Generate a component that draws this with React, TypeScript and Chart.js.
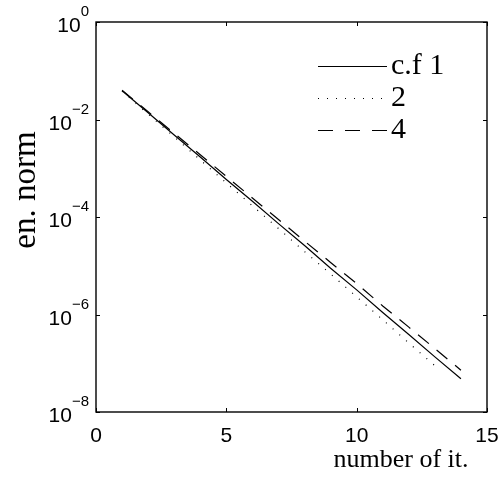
import React, { useEffect, useRef } from "react";
import { Chart, registerables } from "chart.js";

Chart.register(...registerables);

// Iteration counts and the energy norm reached by each coarsening factor
const iterations = [1, 2, 3, 4, 5, 6, 7, 8, 9, 10, 11, 12, 13, 14];
const normCf1 = [3.9e-2, 1.38e-2, 4.8e-3, 1.7e-3, 5.9e-4, 2.1e-4, 7.3e-5, 2.6e-5, 8.9e-6, 3.2e-6, 1.1e-6, 3.9e-7, 1.35e-7, 4.8e-8];
const normCf2 = [3.8e-2, 1.29e-2, 4.4e-3, 1.48e-3, 5.0e-4, 1.7e-4, 5.8e-5, 1.95e-5, 6.8e-6, 2.3e-6, 7.8e-7, 2.6e-7, 8.9e-8];
const normCf4 = [4.0e-2, 1.44e-2, 5.2e-3, 1.9e-3, 6.8e-4, 2.45e-4, 8.9e-5, 3.2e-5, 1.17e-5, 4.3e-6, 1.5e-6, 5.5e-7, 2.0e-7, 7.2e-8];

const seriesLabels = ["c.f 1", "2", "4"];

const xTicks = [0, 5, 10, 15];
const yTicks = [1, 1e-2, 1e-4, 1e-6, 1e-8];
const yTickExponents = ["0", "\u22122", "\u22124", "\u22126", "\u22128"];

const xTitle = "number of it.";
const yTitle = "en. norm";

// line styles: solid, dotted, dashed
const plotDashes: number[][] = [[], [1, 8], [14, 10]];
const legendDashes: number[][] = [[], [1, 8], [15, 12]];

const SANS = "'Liberation Sans', Arial, sans-serif";
const SERIF = "'Liberation Serif', 'Times New Roman', serif";

const toPoints = (ys: number[]) => ys.map((y, i) => ({ x: iterations[i], y }));

const axesPlugin = {
  id: "boxedAxes",
  afterDatasetsDraw(chart: any) {
    const { ctx, chartArea: a, scales } = chart;
    const xs = scales.x;
    const ys = scales.y;
    ctx.save();
    ctx.strokeStyle = "#000";
    ctx.fillStyle = "#000";
    ctx.lineWidth = 1.4;
    ctx.setLineDash([]);
    ctx.strokeRect(a.left, a.top, a.right - a.left, a.bottom - a.top);

    const tickLen = 4;
    ctx.lineWidth = 1;
    ctx.beginPath();
    xTicks.forEach((v) => {
      const px = Math.round(xs.getPixelForValue(v)) + 0.5;
      ctx.moveTo(px, a.bottom);
      ctx.lineTo(px, a.bottom - tickLen);
      ctx.moveTo(px, a.top);
      ctx.lineTo(px, a.top + tickLen);
    });
    yTicks.forEach((v) => {
      const py = Math.round(ys.getPixelForValue(v)) + 0.5;
      ctx.moveTo(a.left, py);
      ctx.lineTo(a.left + tickLen, py);
      ctx.moveTo(a.right, py);
      ctx.lineTo(a.right - tickLen, py);
    });
    ctx.stroke();

    // x tick labels
    ctx.font = `21px ${SANS}`;
    ctx.textAlign = "center";
    ctx.textBaseline = "top";
    xTicks.forEach((v) => {
      ctx.fillText(String(v), xs.getPixelForValue(v), a.bottom + 14);
    });

    // y tick labels: 10 with a raised exponent
    yTicks.forEach((v, i) => {
      const py = ys.getPixelForValue(v);
      ctx.font = `15px ${SANS}`;
      const ew = ctx.measureText(yTickExponents[i]).width;
      ctx.textAlign = "left";
      ctx.textBaseline = "alphabetic";
      const right = a.left - 7;
      ctx.fillText(yTickExponents[i], right - ew, py - 6);
      ctx.font = `21px ${SANS}`;
      ctx.textAlign = "right";
      ctx.fillText("10", right - ew, py + 10);
    });

    // axis titles
    ctx.textAlign = "center";
    ctx.textBaseline = "middle";
    ctx.font = `26px ${SERIF}`;
    ctx.fillText(xTitle, 401, 460);
    ctx.save();
    ctx.font = `33px ${SERIF}`;
    ctx.translate(26, 190);
    ctx.rotate(-Math.PI / 2);
    ctx.fillText(yTitle, 0, 0);
    ctx.restore();

    // legend
    ctx.font = `30px ${SERIF}`;
    ctx.textAlign = "left";
    ctx.textBaseline = "middle";
    chart.data.datasets.forEach((ds: any, i: number) => {
      const ly = 66 + i * 32;
      ctx.lineWidth = 1.2;
      ctx.setLineDash(legendDashes[i]);
      ctx.beginPath();
      ctx.moveTo(318, ly + 0.5);
      ctx.lineTo(387, ly + 0.5);
      ctx.stroke();
      ctx.setLineDash([]);
      ctx.fillText(ds.label, 391, ly);
    });
    ctx.restore();
  },
};

export default function App() {
  const canvasRef = useRef<HTMLCanvasElement | null>(null);

  useEffect(() => {
    const canvas = canvasRef.current;
    if (!canvas) return;
    const series = [normCf1, normCf2, normCf4];
    const chart = new Chart(canvas, {
      type: "line",
      data: {
        datasets: series.map((s, i) => ({
          label: seriesLabels[i],
          data: toPoints(s),
          borderColor: "#000",
          backgroundColor: "#000",
          borderWidth: 1.2,
          borderDash: plotDashes[i],
          pointRadius: 0,
          tension: 0,
          fill: false,
        })),
      },
      options: {
        responsive: false,
        animation: false,
        events: [],
        layout: { padding: { left: 96, right: 15, top: 22, bottom: 69 } },
        plugins: { legend: { display: false }, tooltip: { enabled: false } },
        scales: {
          x: {
            type: "linear",
            min: 0,
            max: 15,
            grid: { display: false },
            border: { display: false },
            ticks: { display: false },
            afterFit: (s: any) => {
              s.height = 0;
            },
          },
          y: {
            type: "logarithmic",
            min: 1e-8,
            max: 1,
            grid: { display: false },
            border: { display: false },
            ticks: { display: false },
            afterFit: (s: any) => {
              s.width = 0;
            },
          },
        },
      },
      plugins: [axesPlugin],
    });
    return () => chart.destroy();
  }, []);

  return (
    <div style={{ position: "fixed", left: 0, top: 0, width: 502, height: 481, background: "#fff" }}>
      <canvas ref={canvasRef} width={502} height={481} style={{ display: "block" }} />
    </div>
  );
}
